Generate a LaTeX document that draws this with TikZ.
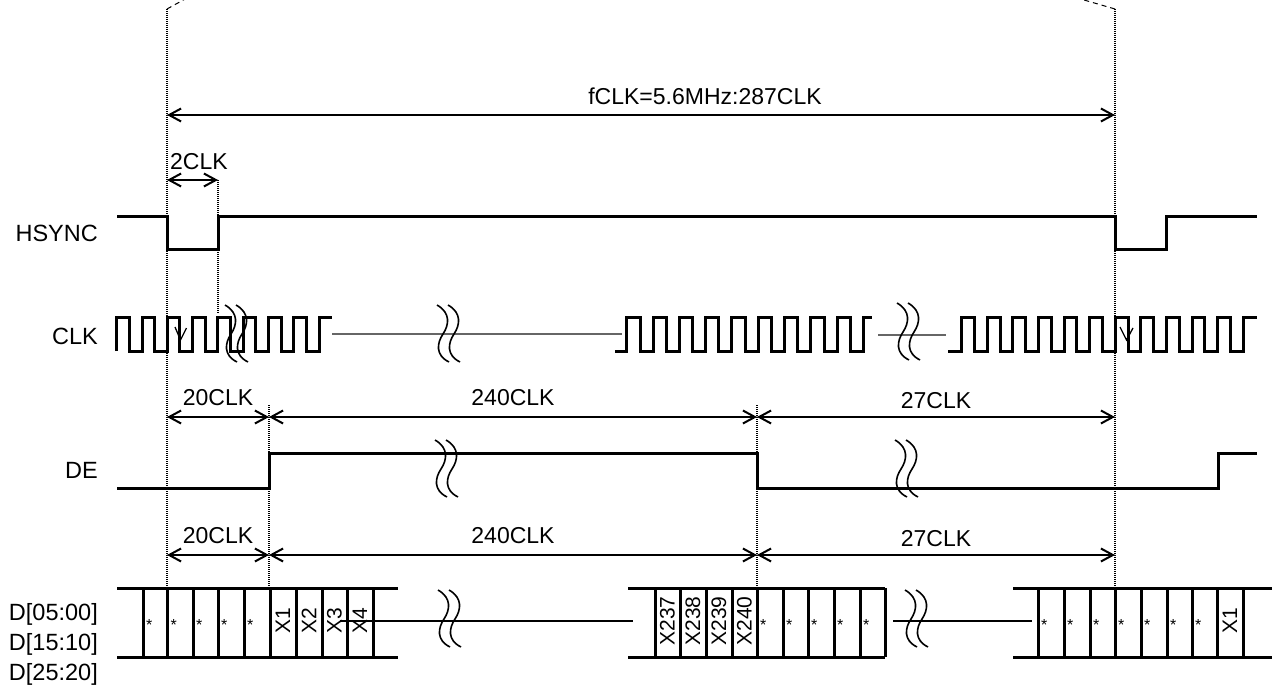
\documentclass[tikz,border=0pt]{standalone}
\usepackage{fontspec}
\setmainfont{Liberation Sans}
\usetikzlibrary{arrows.meta}
\begin{document}
\begin{tikzpicture}[x=1pt,y=-1pt,
  wave/.style={line width=3pt, line join=miter},
  dim/.style={line width=2pt, {Straight Barb[length=12pt,width=13pt]}-{Straight Barb[length=12pt,width=13pt]}},
  guide/.style={line width=2pt, dash pattern=on 1pt off 1pt},
  topdash/.style={line width=1pt, dash pattern=on 5pt off 4pt},
  midline/.style={line width=1.3pt},
  midgray/.style={line width=1.4pt, black!60},
  lbl/.style={font=\fontsize{23.5}{27}\selectfont, inner sep=0pt},
  dlbl/.style={font=\fontsize{23}{27}\selectfont, inner sep=0pt, anchor=base},
  xlbl/.style={font=\fontsize{21}{24}\selectfont, inner sep=0pt, rotate=90},
  astl/.style={font=\fontsize{16}{18}\selectfont, inner sep=0pt, anchor=base west},
  squig/.pic={
    \draw[line width=1.6pt] (0,0) .. controls (14,8) and (12,20) .. (6,29) .. controls (0,38) and (-2,50) .. (12,57);
    \draw[line width=1.6pt] (11,0) .. controls (25,8) and (23,20) .. (17,29) .. controls (11,38) and (9,50) .. (23,57);
  }]
\useasboundingbox (0,0) rectangle (1272,690);
\clip (0,0) rectangle (1272,690);
\fill[white] (0,0) rectangle (1272,690);

% key coordinates
\coordinate (top1) at (167,9);
\coordinate (top2) at (1115,9);
\coordinate (bot1) at (167,588);
\coordinate (bot2) at (1115,588);

% top dashed lines
\draw[topdash] (top1) -- (196,-7);
\draw[topdash] (top2) -- (1060,-7);

% guide lines
\draw[guide] (top1) -- (bot1);
\draw[guide] (top2) -- (bot2);
\draw[guide] (218,180) -- (218,313);
\draw[guide] (269,405) -- (269,588);
\draw[guide] (757,405) -- (757,588);

% dimension arrows
\coordinate (fa) at (167,115); \coordinate (fb) at (1115,115);
\draw[dim] (fa) -- (fb);
\node[dlbl] (fclk) at (705,105) {fCLK=5.6MHz:287CLK};

\coordinate (ha) at (167,180); \coordinate (hb) at (218,180);
\draw[dim] (ha) -- (hb);
\node[dlbl, anchor=base west] (twoclk) at (170,170) {2CLK};

\coordinate (da) at (167,417); \coordinate (db) at (269,417);
\coordinate (dc) at (757,417); \coordinate (dd) at (1115,417);
\draw[dim] (da) -- (db);
\draw[dim] (db) -- (dc);
\draw[dim] (dc) -- (dd);
\node[dlbl] (de20) at (218,405) {20CLK};
\node[dlbl] (de240) at (513,405) {240CLK};
\node[dlbl] (de27) at (936,408) {27CLK};

\coordinate (ea) at (167,555); \coordinate (eb) at (269,555);
\coordinate (ec) at (757,555); \coordinate (ed) at (1115,555);
\draw[dim] (ea) -- (eb);
\draw[dim] (eb) -- (ec);
\draw[dim] (ec) -- (ed);
\node[dlbl] (d20) at (218,543) {20CLK};
\node[dlbl] (d240) at (513,543) {240CLK};
\node[dlbl] (d27) at (936,546) {27CLK};

% signal names
\node[lbl, anchor=base east] (nhs) at (98,241.5) {HSYNC};
\node[lbl, anchor=base east] (nclk) at (98,344.5) {CLK};
\node[lbl, anchor=base east] (nde) at (98,478.3) {DE};
\node[lbl, anchor=base east] (nd1) at (98,620) {D[05:00]};
\node[lbl, anchor=base east] (nd2) at (98,650) {D[15:10]};
\node[lbl, anchor=base east] (nd3) at (98,680) {D[25:20]};

% HSYNC
\draw[wave] (117,216) -- (167,216) -- (167,249) -- (218,249) -- (218,216) -- (1115,216)
  -- (1115,249) -- (1166.5,249) -- (1166.5,216) -- (1257,216);

% CLK
\draw[wave] (116.7,351) \foreach \i in {1,...,8}{ -- ++(0,-34) -- ++(12.65,0) -- ++(0,34) -- ++(12.65,0)} -- ++(0,-34) -- (332,317);
\draw[midgray] (332,334) -- (622,334);
\draw[wave] (615,351) -- (626.7,351) \foreach \i in {1,...,9}{ -- ++(0,-34) -- ++(13.3,0) -- ++(0,34) -- ++(13,0)} -- ++(0,-34) -- (871.7,317);
\draw[midgray] (878,335) -- (946,335);
\draw[wave] (948,351) -- (961.7,351) \foreach \i in {1,...,11}{ -- ++(0,-34) -- ++(12.8,0) -- ++(0,34) -- ++(12.8,0)} -- ++(0,-34) -- (1256.7,317);
\draw[line width=1.3pt] (175,327) -- (180.5,340) -- (186.5,328);
\draw[line width=1.3pt] (1120,327) -- (1126.5,340) -- (1133,328);

% DE
\draw[wave] (117,488) -- (269,488) -- (269,453) -- (757,453) -- (757,488) -- (1218,488) -- (1218,453) -- (1257,453);

% data bus left
\draw[wave] (117,588) -- (398,588);
\draw[wave] (117,657) -- (398,657);
\foreach \x in {143,167.5,193,218,244,270,296,322,347,373} \draw[wave] (\x,588) -- (\x,657);
\foreach \x [count=\i] in {143,167.5,193,218,244} \node[astl] (la\i) at (\x+3,630) {*};
\node[xlbl] (lx1) at (283,621) {X1};
\node[xlbl] (lx2) at (309,621) {X2};
\node[xlbl] (lx3) at (334.5,621) {X3};
\node[xlbl] (lx4) at (360,621) {X4};
\draw[midline] (340,621) -- (633,621);

% data bus middle
\draw[wave] (628,588) -- (885,588);
\draw[wave] (628,657) -- (885,657);
\foreach \x in {655,680,706,732,757,783,808,834,860,885} \draw[wave] (\x,588) -- (\x,657);
\node[xlbl] (mx1) at (667.5,621) {X237};
\node[xlbl] (mx2) at (693,621) {X238};
\node[xlbl] (mx3) at (719,621) {X239};
\node[xlbl] (mx4) at (744.5,621) {X240};
\foreach \x [count=\i] in {757,783,808,834,860} \node[astl] (ma\i) at (\x+3,630) {*};
\draw[midline] (893,621) -- (1032,621);

% data bus right
\draw[wave] (1013,588) -- (1272,588);
\draw[wave] (1013,657) -- (1272,657);
\foreach \x in {1038,1064,1090,1115,1141,1167,1192,1217,1243} \draw[wave] (\x,588) -- (\x,657);
\foreach \x [count=\i] in {1038,1064,1090,1115,1141,1167,1192} \node[astl] (ra\i) at (\x+3,630) {*};
\node[xlbl] (rx1) at (1230,621) {X1};

% break marks
\pic at (225,305) {squig};
\pic at (437,305) {squig};
\pic at (897,303) {squig};
\pic at (435,440) {squig};
\pic at (895,440) {squig};
\pic at (438,590) {squig};
\pic at (905,590) {squig};
\end{tikzpicture}
\end{document}
